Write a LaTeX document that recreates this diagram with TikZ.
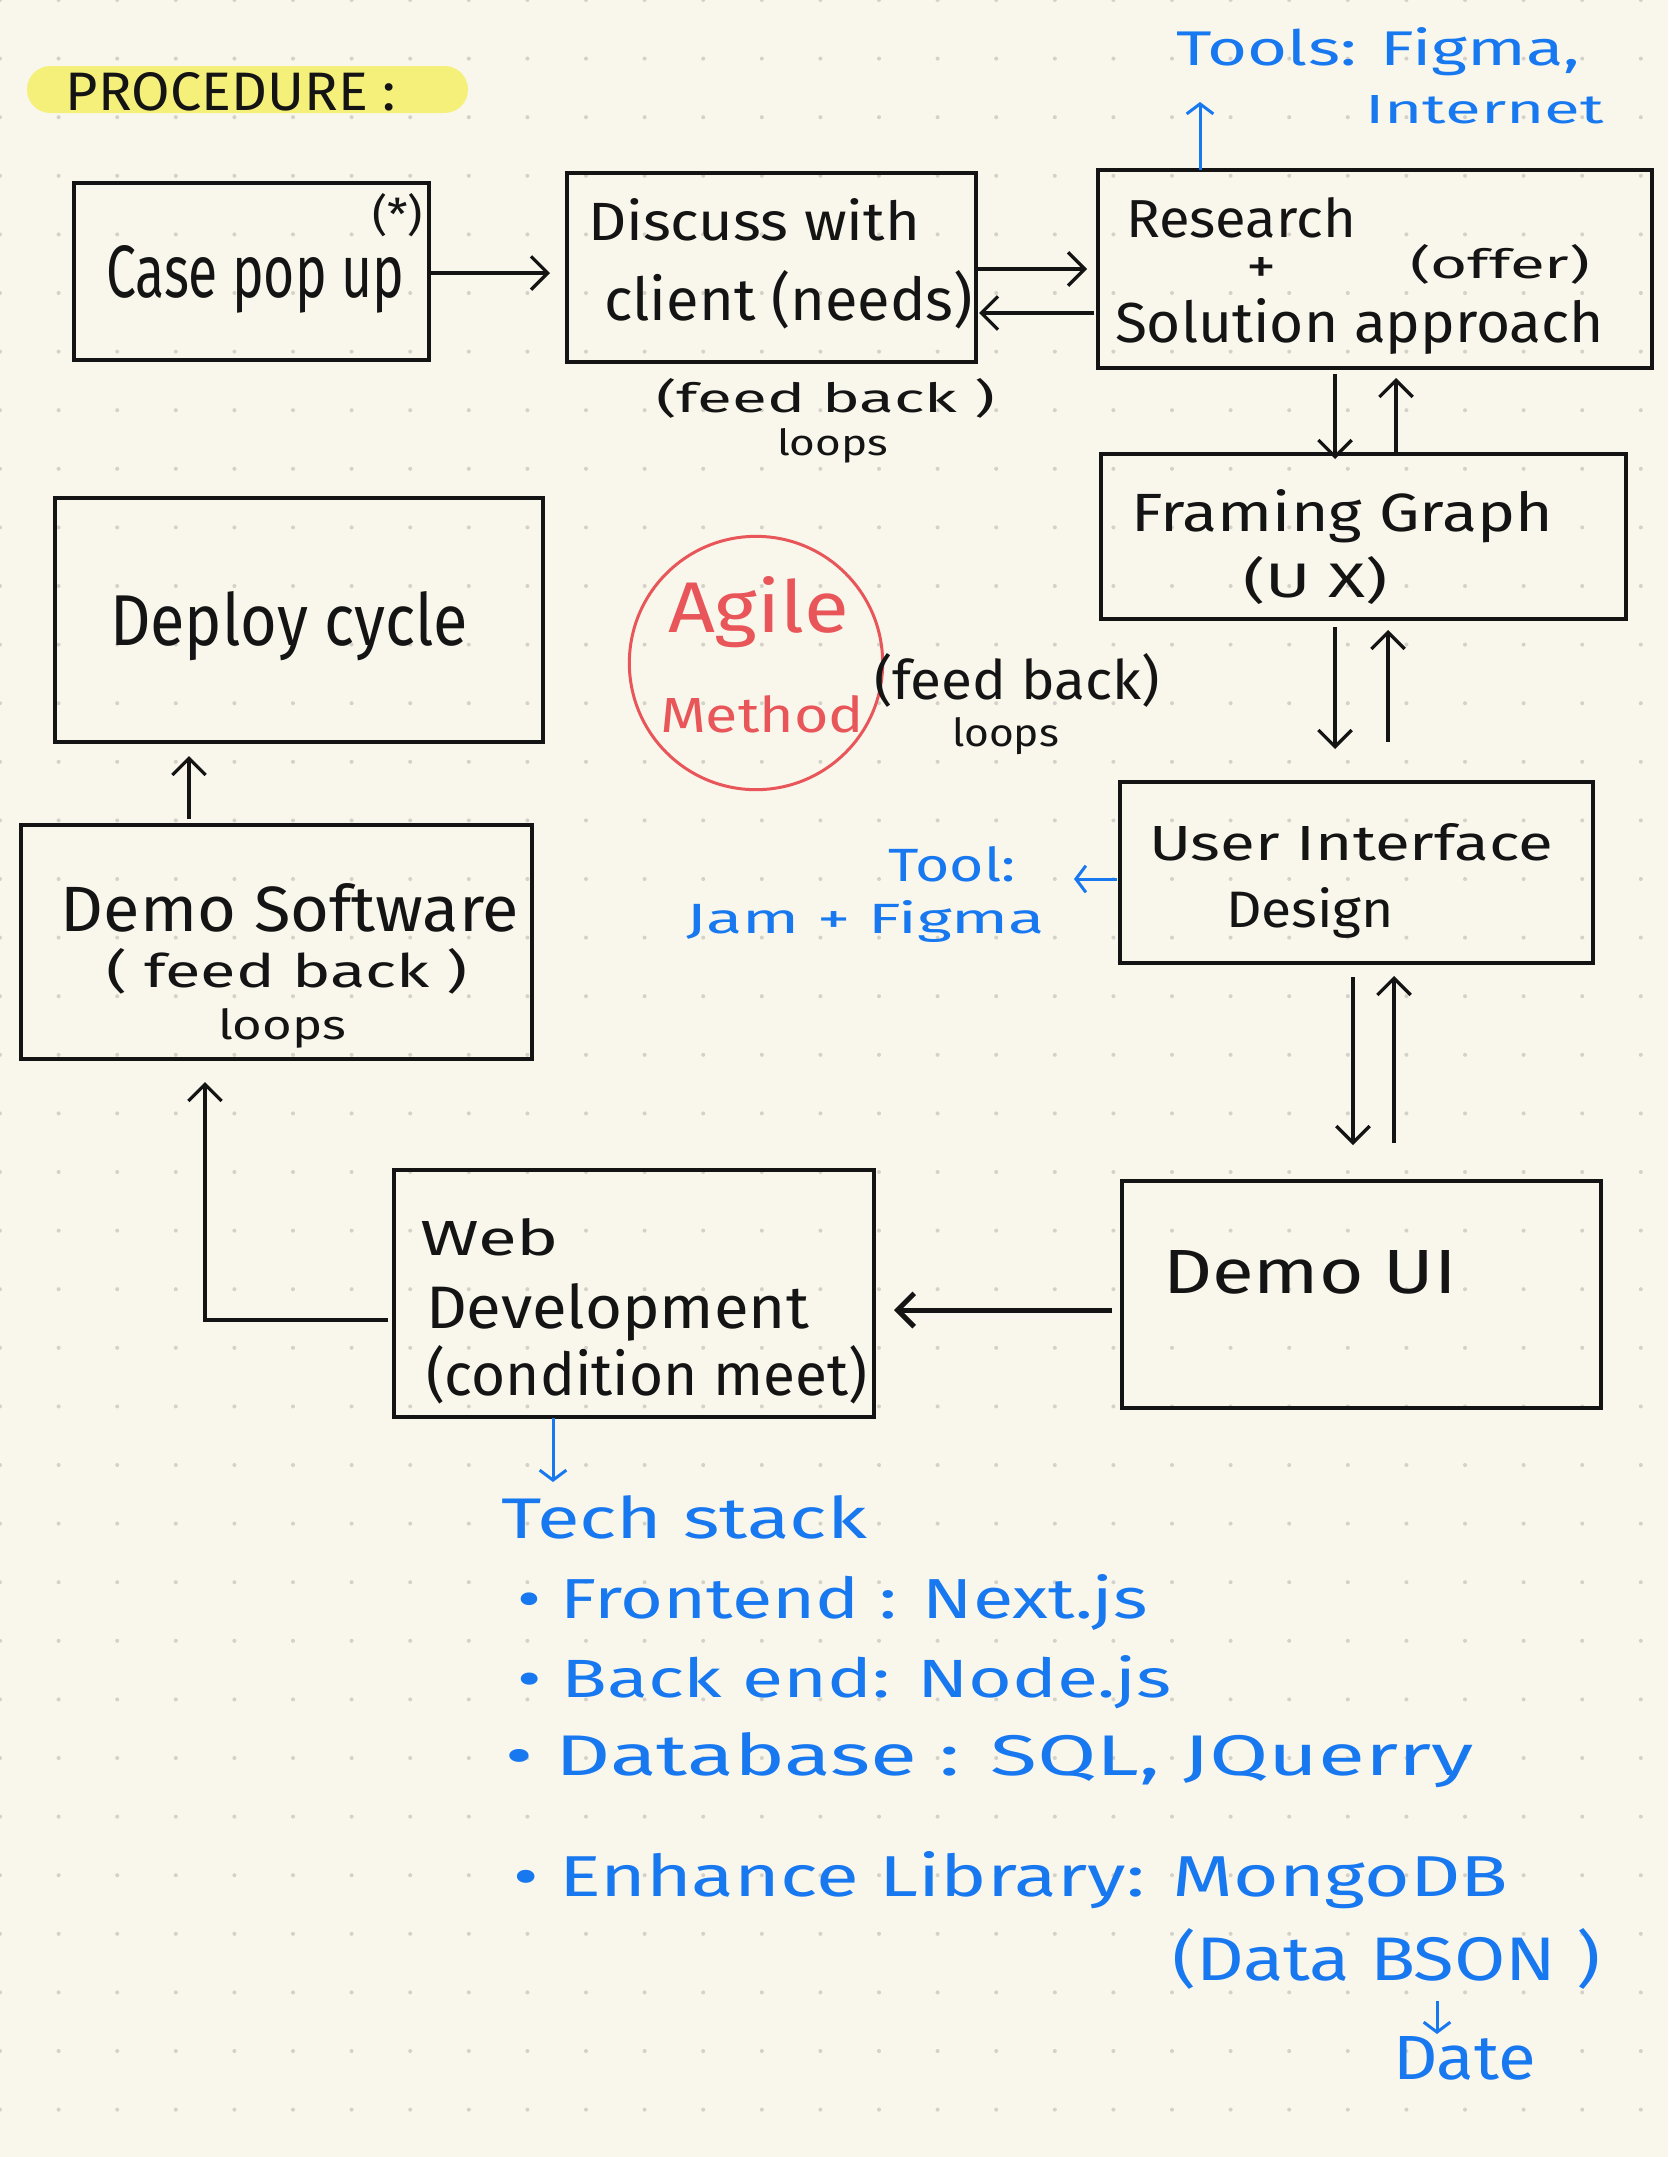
\documentclass[tikz,border=0pt]{standalone}
\usepackage{fontspec}
\setmainfont{Fira Sans}
\usepackage{graphicx}
\usetikzlibrary{arrows.meta,calc,fit}
\newdimen\hpx \hpx=0.3pt
\newcommand{\hw}[3]{\resizebox{#1\hpx}{#2\hpx}{#3}}
\definecolor{bgc}{RGB}{249,247,236}
\definecolor{dotc}{RGB}{212,210,200}
\definecolor{inkc}{RGB}{20,20,20}
\definecolor{bluec}{RGB}{24,120,240}
\definecolor{redc}{RGB}{232,86,90}
\definecolor{hlc}{RGB}{245,240,122}
\begin{document}
\begin{tikzpicture}[x=0.3pt,y=-0.3pt,
  txt/.style={inner sep=0pt, outer sep=0pt, anchor=base west, text=inkc},
  btxt/.style={txt, text=bluec},
  rtxt/.style={txt, text=redc},
  bx/.style={draw=inkc, line width=1.05pt, inner sep=0pt, outer sep=0pt},
  arr/.style={draw=inkc, line width=1pt, -{Straight Barb[length=5pt,width=10pt]}},
  barr/.style={draw=bluec, line width=0.9pt, -{Straight Barb[length=3pt,width=8pt]}}]
\useasboundingbox (0,0) rectangle (1668,2157);
\fill[bgc] (0,0) rectangle (1668,2157);
\foreach \i in {0,...,28}{\foreach \j in {0,...,36}{\fill[dotc] (\i*58.6,\j*58.6) circle[radius=2];}}
% highlight
\node[fill=hlc, rounded corners=7pt, inner sep=0pt, fit={(27,66) (468,113)}] (hl) {};
\node[txt] (proc) at (66,110) {\hw{330}{38}{PROCEDURE :}};
% boxes
\node[bx, fit={(74,183) (429,360)}] (case) {};
\node[bx, fit={(567,173) (976,362)}] (discuss) {};
\node[bx, fit={(1098,170) (1652,368)}] (research) {};
\node[bx, fit={(1101,454) (1626,619)}] (framing) {};
\node[bx, fit={(55,498) (543,742)}] (deploy) {};
\node[bx, fit={(1120,782) (1593,963)}] (ui) {};
\node[bx, fit={(21,825) (532,1059)}] (demosw) {};
\node[bx, fit={(1122,1181) (1601,1408)}] (demoui) {};
\node[bx, fit={(394,1170) (874,1417)}] (webdev) {};
\node[draw=redc, line width=0.9pt, circle, minimum size=76pt, inner sep=0pt] (agile) at (756,663) {};
% texts
\node[btxt] (tools1) at (1176,65) {\hw{404}{38}{Tools: Figma,}};
\node[btxt] (tools2) at (1365,123) {\hw{239}{28}{Internet}};
\node[txt] (star) at (372,230) {\hw{51}{37}{(*)}};
\node[txt] (casetxt) at (106,297) {\hw{298}{52}{Case pop up}};
\node[txt] (disc1) at (588,240) {\hw{332}{42}{Discuss with}};
\node[txt] (disc2) at (604,320) {\hw{369}{50}{client (needs)}};
\node[txt] (fb1) at (656,412) {\hw{339}{34}{(feed back )}};
\node[txt] (lp1) at (777,455) {\hw{111}{27}{loops}};
\node[txt] (res1) at (1126,237) {\hw{230}{40}{Research}};
\node[txt] (plus) at (1246,283) {\hw{30}{26}{+}};
\node[txt] (offer) at (1410,278) {\hw{180}{34}{(offer)}};
\node[txt] (sol) at (1115,342) {\hw{489}{44}{Solution approach}};
\node[txt] (fr1) at (1131,531) {\hw{422}{42}{Framing Graph}};
\node[txt] (fr2) at (1243,597) {\hw{145}{41}{(U X)}};
\node[txt] (fb2) at (874,699) {\hw{286}{46}{(feed back)}};
\node[txt] (lp2) at (952,746) {\hw{107}{29}{loops}};
\node[rtxt] (agile1) at (668,632) {\hw{181}{56}{Agile}};
\node[rtxt] (agile2) at (660,732) {\hw{204}{37}{Method}};
\node[txt] (deploytxt) at (110,645) {\hw{358}{54}{Deploy cycle}};
\node[txt] (dsw1) at (61,931) {\hw{458}{48}{Demo Software}};
\node[txt] (dsw2) at (106,987) {\hw{362}{39}{( feed back )}};
\node[txt] (dsw3) at (218,1039) {\hw{128}{31}{loops}};
\node[txt] (ui1) at (1149,860) {\hw{404}{37}{User Interface}};
\node[txt] (ui2) at (1226,927) {\hw{168}{40}{Design}};
\node[btxt] (tool) at (888,881) {\hw{128}{35}{Tool:}};
\node[btxt] (jam) at (686,933) {\hw{359}{33}{Jam + Figma}};
\node[txt] (dui) at (1163,1293) {\hw{294}{43}{Demo UI}};
\node[txt] (web1) at (420,1255) {\hw{139}{37}{Web}};
\node[txt] (web2) at (426,1328) {\hw{383}{45}{Development}};
\node[txt] (web3) at (426,1395) {\hw{441}{50}{(condition meet)}};
\node[btxt] (tech) at (501,1538) {\hw{366}{43}{Tech stack}};
\node[btxt] (fe) at (517,1618) {\hw{631}{44}{• Frontend : Next.js}};
\node[btxt] (be) at (517,1697) {\hw{655}{42}{• Back end: Node.js}};
\node[btxt] (db) at (505,1775) {\hw{969}{43}{• Database : SQL, JQuerry}};
\node[btxt] (el) at (513,1896) {\hw{995}{45}{• Enhance Library: MongoDB}};
\node[btxt] (bson) at (1172,1980) {\hw{428}{52}{(Data BSON )}};
\node[btxt] (date) at (1393,2079) {\hw{143}{43}{Date}};
% connectors
\draw[arr, shorten >=5.1pt] ($(case.east)+(0,1.5)$) -- ($(case.east -| discuss.west)+(0,1.5)$);
\draw[arr, shorten >=3.3pt] ($(discuss.east)+(0,1.5)$) -- ($(discuss.east -| research.west)+(0,1.5)$);
\coordinate (r313) at ($(research.west)+(-4,44)$);
\draw[arr, shorten >=0.9pt] (r313) -- (r313 -| discuss.east);
\draw[barr] ($(research.north west)+(102,0)$) -- ++(0,-68);
\draw[arr] ($(research.south west)+(237,6)$) -- ($(framing.north west)+(234,5)$);
\draw[arr] ($(framing.north west)+(295,-1)$) -- ($(research.south west)+(298,10)$);
\draw[arr] ($(framing.south west)+(234,8)$) -- ($(ui.north west)+(215,-33)$);
\draw[arr] ($(ui.north west)+(268,-40)$) -- ($(framing.south west)+(287,11)$);
\draw[barr] ($(ui.west)+(-3,6.5)$) -- ++(-43,0);
\draw[arr] ($(ui.south west)+(233,14)$) -- ($(demoui.north west)+(231,-36)$);
\draw[arr] ($(demoui.north west)+(272,-38)$) -- ($(ui.south west)+(274,13)$);
\draw[arr, line width=1.5pt] ($(demoui.west)+(-10,15.5)$) -- ($(webdev.east)+(20,16.5)$);
\draw[arr] ($(webdev.west)+(-6,26.5)$) -| ($(demosw.south west)+(184,23)$);
\draw[arr] ($(demosw.north west)+(168,-6)$) -- ($(deploy.south west)+(134,14)$);
\draw[barr] ($(webdev.south west)+(159,1)$) -- ++(0,64);
\draw[barr] ($(date.north west)+(44,-35)$) -- ++(0,33);
\end{tikzpicture}
\end{document}
